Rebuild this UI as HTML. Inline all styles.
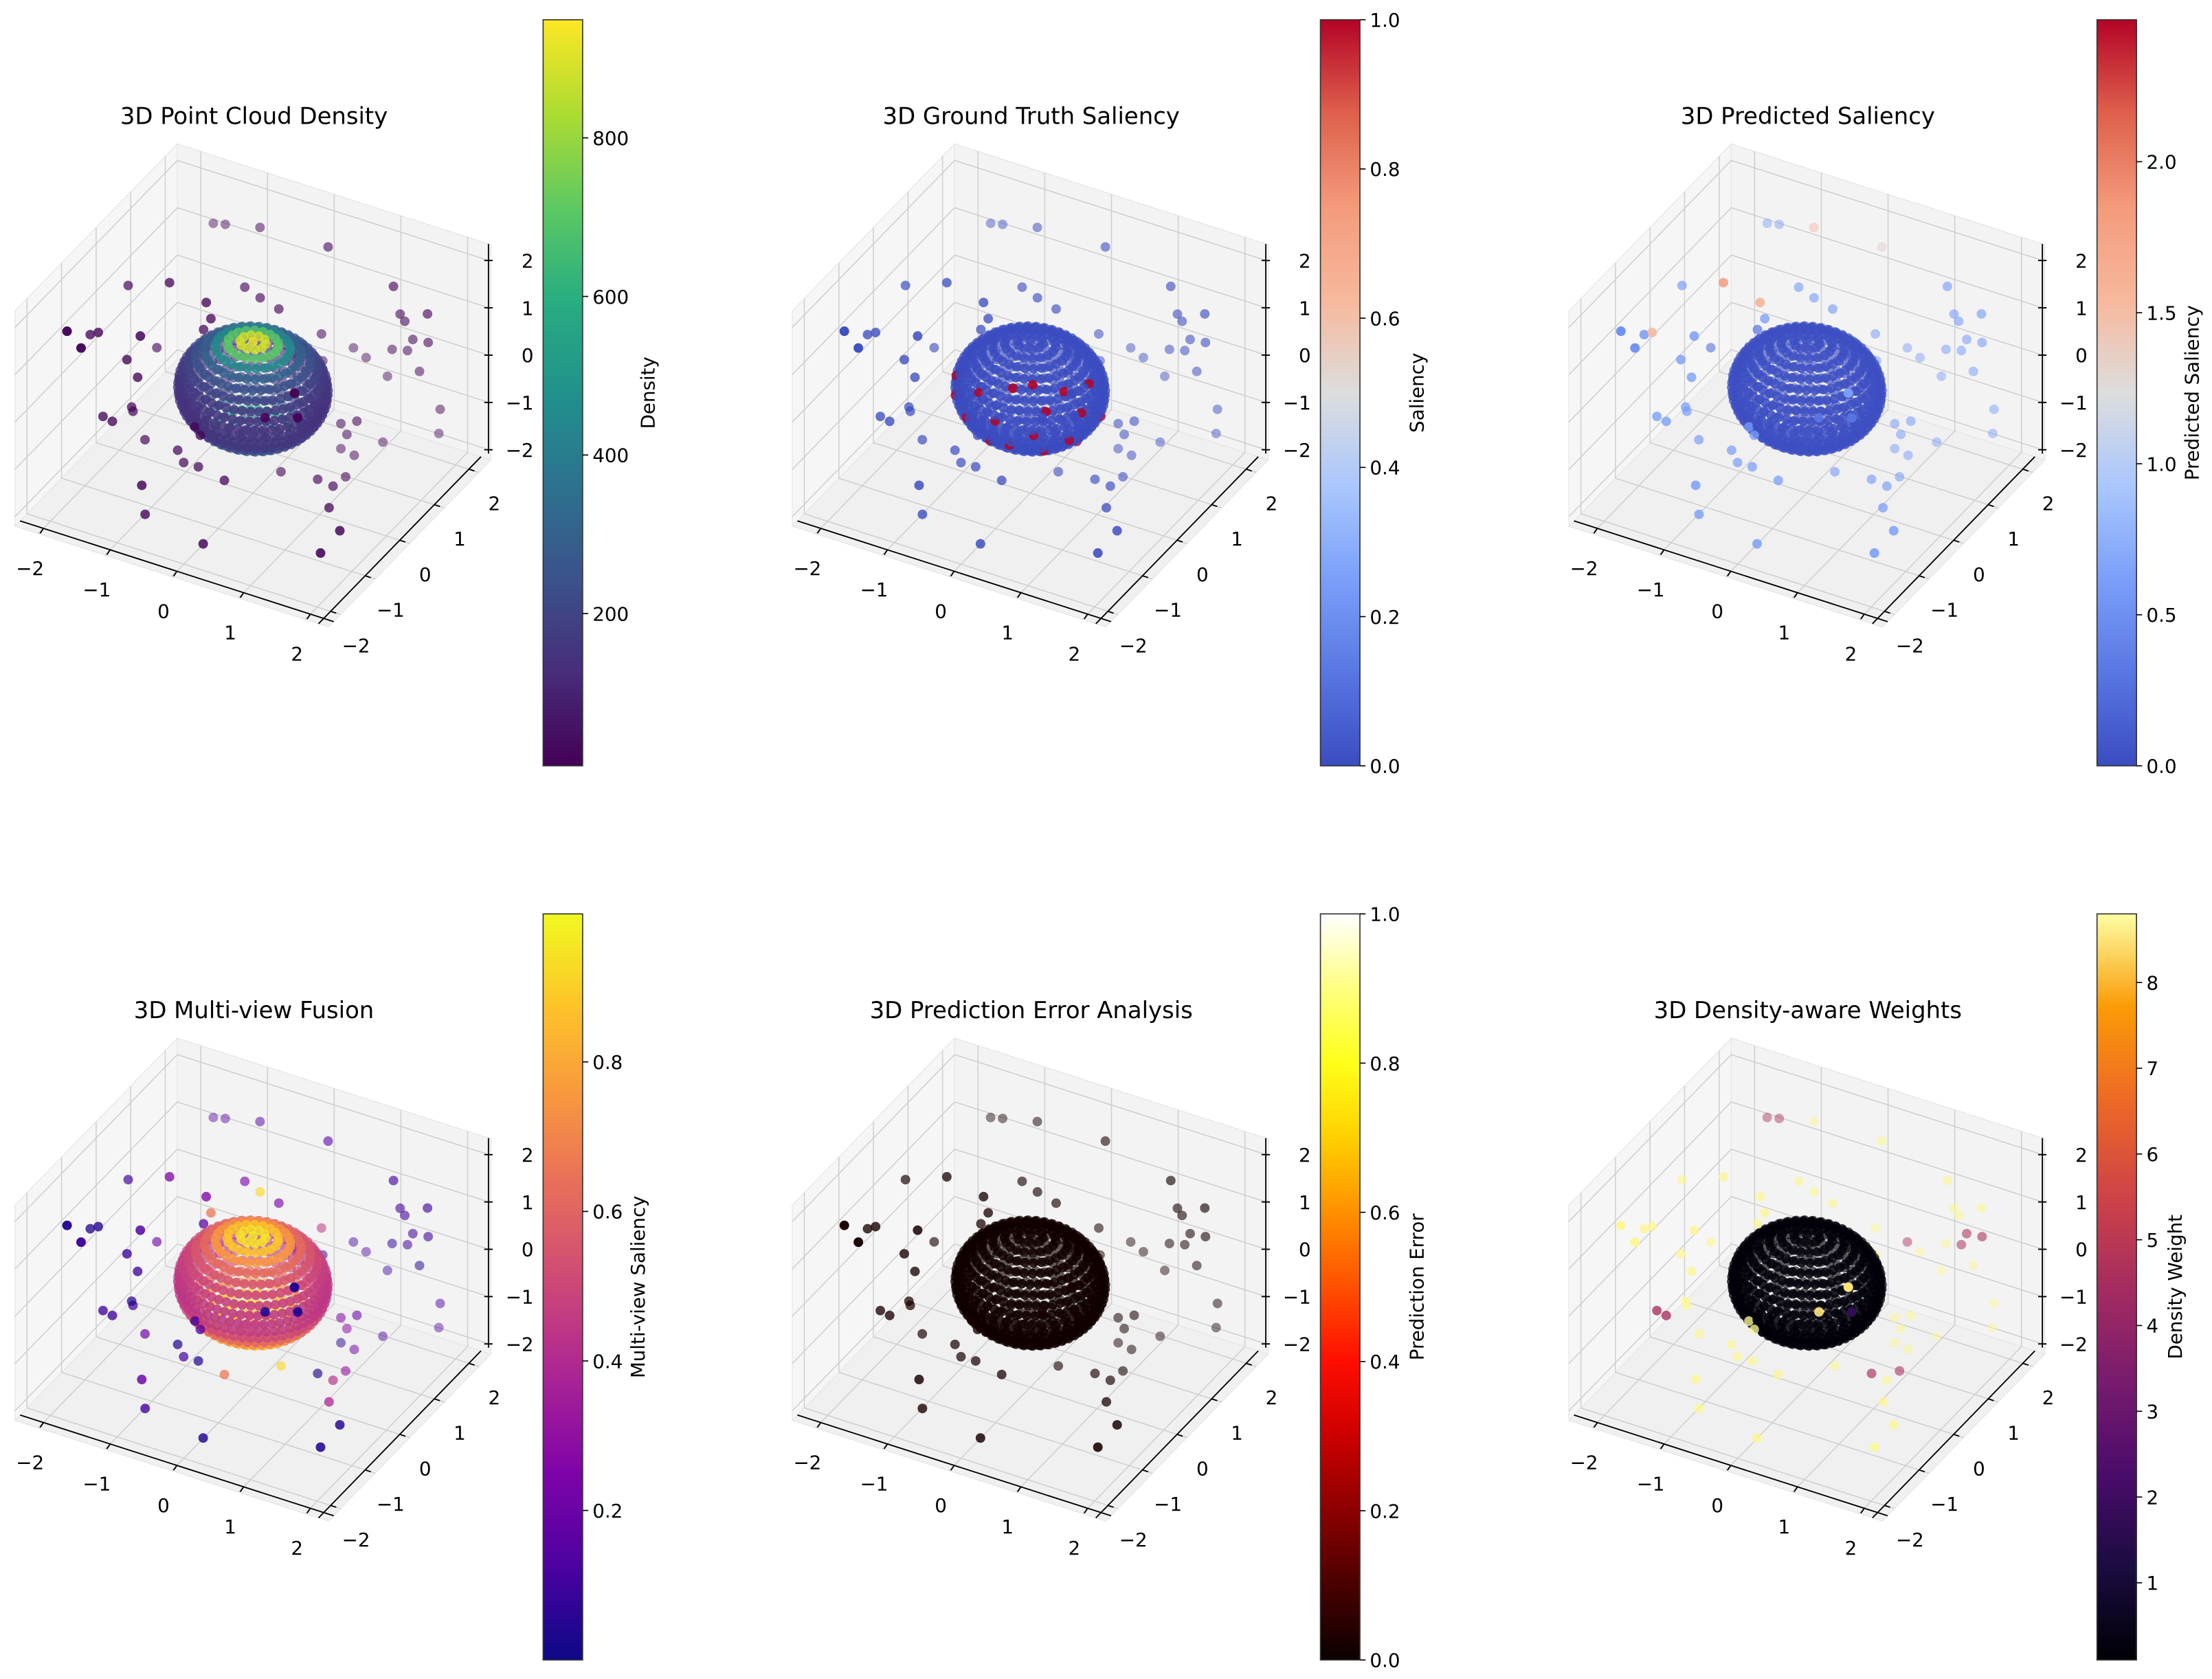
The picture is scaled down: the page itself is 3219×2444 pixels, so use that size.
<!DOCTYPE html>
<html><head><meta charset="utf-8"><style>
html,body{margin:0;padding:0;background:#fff;}
svg{display:block;font-family:"DejaVu Sans","Liberation Sans",sans-serif;}
</style></head><body>
<svg id="fig" xmlns="http://www.w3.org/2000/svg" width="3219" height="2444" viewBox="0 0 1568 1190.5">
<rect x="0" y="0" width="1568" height="1190.5" fill="#ffffff"/>
<defs id="defs"></defs>
</svg>
<script>
// ---- shared outlier data (x, y, z in data coords) ----
const outX=[-1.63,-1.45,-0.93,0.09,-1.87,-1.25,-0.64,-0.41,1.07,-0.7,-0.13,-0.63,1.17,1.24,1.58,-1.75,-1.92,-1.8,-1.54,-1.17,-1.44,-0.74,-1.37,-1.21,1.36,1.59,1.28,1.05,0.47,0.66,0.25,0.27,-0.03,-0.16,-0.72,0.98,1.46,-1.3,-1.28,-1.47,-1.33,1.77,1.75,-0.35,-0.27,-1.1,-0.61,-0.52,-0.3,0.8,1.0,1.17,1.04,0.89,0.8,0.42,0.09,0.97,1.2,1.13,-0.63,-0.58,1.4,1.82,0.29,1.79,0.7,1.19,1.14];
const outY=[2,2,2,2,0,0,1,1,2,0,1,0,2,2,2,-2,-1,-1,-2,-1,0,0,-1,-1,2,2,2,2,2,2,1.5,1.5,1.5,1.5,0,2,2,-1,-1,-1.5,-1.5,2,2,-1,-1,-1,-1,-1,-1,1,1,1.5,1,1,1,0,-1,0,0,0.5,-2,-2,-0.5,-1,-2,-1.5,-1,-1,-1];
const outZ=[1.26,1.32,1.49,1.54,1.34,1.68,1.11,0.99,1.15,1.51,0.88,1.2,0.61,0.49,0.8,1.93,1.03,1.13,1.67,1.34,0.22,0.92,0.75,0.45,0.16,0.2,-0.11,-0.19,-0.42,-0.54,0.15,-0.41,-0.27,-0.51,0.55,-0.79,-0.47,-0.22,-0.3,-0.12,-0.16,-1.13,-1.65,-0.21,-0.35,-0.82,-0.82,-1.04,-1.03,-1.65,-1.7,-1.72,-0.96,-1.31,-1.12,-1.56,-1.14,-1.47,-1.51,-1.72,-0.82,-1.41,-1.5,-1.42,-1.64,-1.53,0.46,0.68,1.18];
// ---- outlier colour values per panel ----
const valsDensity=[20,20,20,20,20,20,20,20,20,20,20,20,20,20,20,20,20,20,20,20,20,20,20,20,20,20,20,20,20,20,20,20,20,20,20,20,20,20,20,20,20,20,20,20,20,20,20,20,20,20,20,20,20,20,20,20,20,20,20,20,20,20,20,20,20,20,20,20,20];
const valsGT=[0,0,0,0,0,0,0,0,0,0,0,0,0,0,0,0,0,0,0,0,0,0,0,0,0,0,0,0,0,0,0,0,0,0,0,0,0,0,0,0,0,0,0,0,0,0,0,0,0,0,0,0,0,0,0,0,0,0,0,0,0,0,0,0,0,0,0,0,0];
const valsPred=[0.6,0.6,1.5,1.3,0.6,1.9,0.6,0.6,0.6,1.7,0.6,0.6,0.6,0.6,0.6,0.5,0.5,1.6,0.5,0.6,0.3,0.3,0.6,0.6,0.6,0.6,0.6,0.6,0.6,0.6,0.6,0.6,0.6,0.6,0.3,0.6,0.6,0.6,0.6,0.6,0.6,0.6,0.6,0.6,0.6,0.6,0.6,0.6,0.6,0.6,0.6,0.6,0.6,0.6,0.6,0.6,0.6,0.6,0.6,0.6,0.6,0.6,0.6,0.6,0.6,0.6,0.3,0.3,0.6];
const valsFusion=[0.15,0.15,0.15,0.15,0.1,0.25,0.25,0.92,0.1,0.25,0.25,0.66,0.1,0.1,0.1,0.05,0.05,0.05,0.1,0.15,0.2,0.15,0.1,0.1,0.1,0.1,0.1,0.05,0.1,0.15,0.45,0.05,0.1,0.15,0.15,0.1,0.05,0.05,0.1,0.1,0.1,0.15,0.15,0.1,0.15,0.2,0.05,0.1,0.05,0.05,0.2,0.1,0.2,0.3,0.25,0.92,0.66,0.05,0.42,0.3,0.2,0.1,0.38,0.05,0.05,0.05,0.05,0.05,0.05];
const valsError=[0.02,0.02,0.02,0.02,0.02,0.02,0.02,0.02,0.02,0.02,0.02,0.02,0.02,0.02,0.02,0.02,0.02,0.02,0.02,0.02,0.02,0.02,0.02,0.02,0.02,0.02,0.02,0.02,0.02,0.02,0.02,0.02,0.02,0.02,0.02,0.02,0.02,0.02,0.02,0.02,0.02,0.02,0.02,0.02,0.02,0.02,0.02,0.02,0.02,0.02,0.02,0.02,0.02,0.02,0.02,0.02,0.02,0.02,0.02,0.02,0.02,0.02,0.02,0.02,0.02,0.02,0.02,0.02,0.02];
const valsWeight=[4.6,4.6,8.7,8.7,8.7,8.7,8.7,8.7,8.7,8.7,8.7,8.7,8.7,8.7,8.7,8.7,8.7,8.7,8.7,8.7,8.7,8.7,8.7,8.7,4.6,4.6,4.6,8.7,4.6,8.7,8.7,8.7,8.7,8.7,8.5,8.7,8.7,8.7,8.7,4.5,4.5,8.7,8.7,8.7,8.7,8.7,8.7,8.7,8.7,8.7,8.7,8.7,8.7,8.7,8.7,8.7,8.7,4.5,8.7,4.5,8.7,8.7,8.7,8.7,8.7,8.7,8.5,1.8,8.5];
// ---- sphere latitude-band values per panel (north -> south, 19 bands) ----
const bandDensity=[920,880,700,450,300,240,200,170,150,140,140,150,160,200,300,520,400,300,250];
const bandGT=[0,0,0,0,0,0,0,0,0,0,0,0,0,0,0,0,0,0,0];
const bandPred=[0.02,0.02,0.02,0.02,0.02,0.02,0.02,0.02,0.02,0.02,0.02,0.02,0.02,0.02,0.02,0.02,0.02,0.02,0.02];
const bandFusion=[0.97,0.95,0.88,0.75,0.62,0.55,0.5,0.47,0.45,0.44,0.45,0.5,0.6,0.72,0.85,0.92,0.85,0.75,0.7];
const bandError=[0.01,0.01,0.01,0.01,0.01,0.01,0.01,0.01,0.01,0.01,0.01,0.01,0.01,0.01,0.01,0.01,0.01,0.01,0.01];
const bandWeight=[0.2,0.2,0.2,0.2,0.2,0.2,0.2,0.2,0.2,0.2,0.2,0.2,0.2,0.2,0.2,0.2,0.2,0.2,0.2];
// accent points on sphere for ground-truth panel [lat, lon]
const accentLat=[40,35,25,20,10,5,-5,-10,-20,-25,-35,-40,30,0,-15,15,-30,45];
const accentLon=[-80,-30,-110,-50,-20,-90,-60,-120,-30,-80,-50,-10,0,-140,10,-150,-100,-60];
// ---- tick arrays ----
const axisTicks=[-2,-1,0,1,2];
const cbTicks=[[200,400,600,800],[0,0.2,0.4,0.6,0.8,1.0],[0,0.5,1.0,1.5,2.0],[0.2,0.4,0.6,0.8],[0,0.2,0.4,0.6,0.8,1.0],[1,2,3,4,5,6,7,8]];
const cbTickLabels=[["200","400","600","800"],["0.0","0.2","0.4","0.6","0.8","1.0"],["0.0","0.5","1.0","1.5","2.0"],["0.2","0.4","0.6","0.8"],["0.0","0.2","0.4","0.6","0.8","1.0"],["1","2","3","4","5","6","7","8"]];
const cbMin=[8,0,0,0,0,0.1];
const cbMax=[949,1,2.47,0.998,1,8.8];
const titles=["3D Point Cloud Density","3D Ground Truth Saliency","3D Predicted Saliency","3D Multi-view Fusion","3D Prediction Error Analysis","3D Density-aware Weights"];
const cbLabels=["Density","Saliency","Predicted Saliency","Multi-view Saliency","Prediction Error","Density Weight"];

const CMAPS={
 viridis:["#440154","#472d7b","#3b528b","#2c728e","#21918c","#28ae80","#5ec962","#addc30","#fde725"],
 coolwarm:["#3b4cc0","#5977e3","#7b9ff9","#aac7fd","#dddddd","#f7b89c","#f49a7b","#de604d","#b40426"],
 plasma:["#0d0887","#4c02a1","#7e03a8","#a92395","#cc4778","#e56b5d","#f89540","#fdc328","#f0f921"],
 hot:["#0b0000","#4a0000","#8c0000","#cc0000","#ff0d00","#ff5000","#ff9000","#ffd000","#ffff1a","#ffff80","#ffffff"],
 inferno:["#000004","#1b0c41","#4a0c6b","#781c6d","#a52c60","#cf4446","#ed6925","#fb9b06","#fcffa4"]
};
const panelCmap=["viridis","coolwarm","coolwarm","plasma","hot","inferno"];
const panelVals=[valsDensity,valsGT,valsPred,valsFusion,valsError,valsWeight];
const panelBands=[bandDensity,bandGT,bandPred,bandFusion,bandError,bandWeight];

function hex2rgb(h){return [parseInt(h.substr(1,2),16),parseInt(h.substr(3,2),16),parseInt(h.substr(5,2),16)];}
function cmap(name,t){
  const c=CMAPS[name];t=Math.max(0,Math.min(1,t));
  const f=t*(c.length-1);const i=Math.min(c.length-2,Math.floor(f));const u=f-i;
  const a=hex2rgb(c[i]),b=hex2rgb(c[i+1]);
  return "rgb("+[0,1,2].map(k=>Math.round(a[k]+(b[k]-a[k])*u)).join(",")+")";
}

const NS="http://www.w3.org/2000/svg";
const svg=document.getElementById("fig");
const defs=document.getElementById("defs");
function mk(tag,attrs,parent){const e=document.createElementNS(NS,tag);for(const k in attrs)e.setAttribute(k,attrs[k]);(parent||svg).appendChild(e);return e;}

const L=2.2;
const EX=[47.3,15.2],EY=[24.5,-25.2],EZ=[0,-33.55],O=[179.3,275.8];
function depth(x,y,z){return 0.433*x-0.75*y+0.5*z;}

const offX=[0,551,1101.5],offY=[0,634];
const cbLabelOff=[79,73,72,72,73,60];

for(let p=0;p<6;p++){
  const col=p%3,row=Math.floor(p/3);
  const ox=offX[col],oy=offY[row];
  const px=(x,y,z)=>[ox+O[0]+x*EX[0]+y*EY[0]+z*EZ[0], oy+O[1]+x*EX[1]+y*EY[1]+z*EZ[1]];
  const g=mk("g",{});
  
  
  const pts=a=>a.map(v=>v.join(",")).join(" ");
  const PL=2.35;
  const floor=mk("polygon",{points:pts([px(-PL,-PL,-L),px(PL,-PL,-L),px(PL,PL,-L),px(-PL,PL,-L)]),fill:"#f0f0f0",stroke:"#e6e6e6","stroke-width":0.6},g);
  
  
  const wl=mk("polygon",{points:pts([px(-PL,-PL,-L),px(-PL,PL,-L),px(-PL,PL,PL),px(-PL,-PL,PL)]),fill:"#f6f6f6",stroke:"#e6e6e6","stroke-width":0.6},g);
  
  
  const wr=mk("polygon",{points:pts([px(-PL,PL,-L),px(PL,PL,-L),px(PL,PL,PL),px(-PL,PL,PL)]),fill:"#f3f3f3",stroke:"#e6e6e6","stroke-width":0.6},g);
  
  
  const grid=mk("g",{stroke:"#cfcfcf","stroke-width":0.75,fill:"none"},g);
  
  
  axisTicks.forEach(t=>{
    mk("polyline",{points:pts([px(t,-PL,-L),px(t,PL,-L),px(t,PL,PL)])},grid);
    mk("polyline",{points:pts([px(PL,t,-L),px(-PL,t,-L),px(-PL,t,PL)])},grid);
    mk("polyline",{points:pts([px(-PL,-PL,t),px(-PL,PL,t),px(PL,PL,t)])},grid);
  });
  const ax=mk("g",{stroke:"#000","stroke-width":0.9,fill:"none"},g);
  
  
  mk("line",{x1:px(-PL,-L,-L)[0],y1:px(-PL,-L,-L)[1],x2:px(PL,-L,-L)[0],y2:px(PL,-L,-L)[1]},ax);
  mk("line",{x1:px(L,-PL,-L)[0],y1:px(L,-PL,-L)[1],x2:px(L,PL,-L)[0],y2:px(L,PL,-L)[1]},ax);
  const zx=px(L,L,-L)[0]+9;
  mk("line",{x1:zx,y1:px(L,L,-L)[1]-6,x2:zx,y2:px(L,L,PL)[1]-2},ax);
  const tl=mk("g",{"font-size":13.5,fill:"#000"},g);
  
  
  const fmt=t=>(t<0?"\u2212":"")+Math.abs(t);
  axisTicks.forEach(t=>{
    let a=px(t,-L,-L);
    mk("line",{x1:a[0],y1:a[1],x2:a[0]-2.4,y2:a[1]+3.5},ax);
    let tx=mk("text",{x:a[0]-9.5,y:a[1]+33,"text-anchor":"middle"},tl);tx.textContent=fmt(t);
    a=px(L,t,-L);
    mk("line",{x1:a[0],y1:a[1],x2:a[0]+4,y2:a[1]+1.3},ax);
    tx=mk("text",{x:a[0]+18,y:a[1]+29,"text-anchor":"middle"},tl);tx.textContent=fmt(t);
    const zy=px(L,L,t)[1]-2;
    mk("line",{x1:zx-3,y1:zy,x2:zx+3,y2:zy},ax);
    tx=mk("text",{x:zx+32,y:zy+5,"text-anchor":"end"},tl);tx.textContent=fmt(t);
  });
  const name=panelCmap[p],vmin=cbMin[p],vmax=cbMax[p];
  const items=[];
  const band=panelBands[p];
  for(let b=0;b<band.length;b++){
    const lat=(90-b*10)*Math.PI/180;
    const n=Math.max(1,Math.round(56*Math.cos(lat)));
    for(let i=0;i<n;i++){
      const lon=(i*360/n+(b%2)*180/n)*Math.PI/180;
      const x=Math.cos(lat)*Math.cos(lon),y=Math.cos(lat)*Math.sin(lon),z=Math.sin(lat);
      items.push({x,y,z,v:band[b],k:'sphere-point',s:1});
    }
  }
  if(p===1){accentLat.forEach((la,i)=>{const a=la*Math.PI/180,o=accentLon[i]*Math.PI/180;items.push({x:1.02*Math.cos(a)*Math.cos(o),y:1.02*Math.cos(a)*Math.sin(o),z:1.02*Math.sin(a),v:1,k:'salient-point',s:1});});}
  const vals=panelVals[p];
  outX.forEach((x,i)=>items.push({x,y:outY[i],z:outZ[i],v:vals[i],k:'outlier-point',s:0}));
  items.forEach(it=>it.d=depth(it.x,it.y,it.z));
  const dmin=Math.min(...items.map(i=>i.d)),dmax=Math.max(...items.map(i=>i.d));
  items.sort((a,b)=>a.d-b.d);
  const sg=mk("g",{},g);
  
  
  items.forEach(it=>{
    const s=px(it.x,it.y,it.z);
    const f=(it.d-dmin)/(dmax-dmin);
    const al=it.s?0.55+0.45*f:0.45+0.55*f;
    const c=mk("circle",{cx:s[0].toFixed(2),cy:s[1].toFixed(2),r:3.4,fill:cmap(name,(it.v-vmin)/(vmax-vmin)),"fill-opacity":al.toFixed(3)},sg);
    
    
  });
  const tt=mk("text",{x:ox+180,y:oy+88,"font-size":16.5,"text-anchor":"middle",fill:"#000"},g);
  tt.textContent=titles[p];
  
  
  const cx=ox+385,cy=oy+14,cw=28,ch=529;
  const gid="grad"+p;
  const lg=mk("linearGradient",{id:gid,x1:0,y1:1,x2:0,y2:0},defs);
  for(let k=0;k<=40;k++)mk("stop",{offset:(k/40),"stop-color":cmap(name,k/40)},lg);
  const cb=mk("g",{},g);
  
  
  mk("rect",{x:cx,y:cy,width:cw,height:ch,fill:"url(#"+gid+")",stroke:"#333","stroke-width":0.8},cb);
  const ys=v=>cy+ch-(v-vmin)/(vmax-vmin)*ch;
  cbTicks[p].forEach((v,i)=>{
    const y=ys(v);
    mk("line",{x1:cx+cw,y1:y,x2:cx+cw+4,y2:y,stroke:"#000","stroke-width":0.8},cb);
    const t=mk("text",{x:cx+cw+7,y:y+5,"font-size":13.5,fill:"#000"},cb);t.textContent=cbTickLabels[p][i];
  });
  const lx=cx+cbLabelOff[p],ly=cy+ch/2;
  const lt=mk("text",{x:lx,y:ly,"font-size":13.5,"text-anchor":"middle",fill:"#000",transform:"rotate(-90 "+lx+" "+ly+")"},cb);
  lt.textContent=cbLabels[p];
  
  
}
</script>
</body></html>
